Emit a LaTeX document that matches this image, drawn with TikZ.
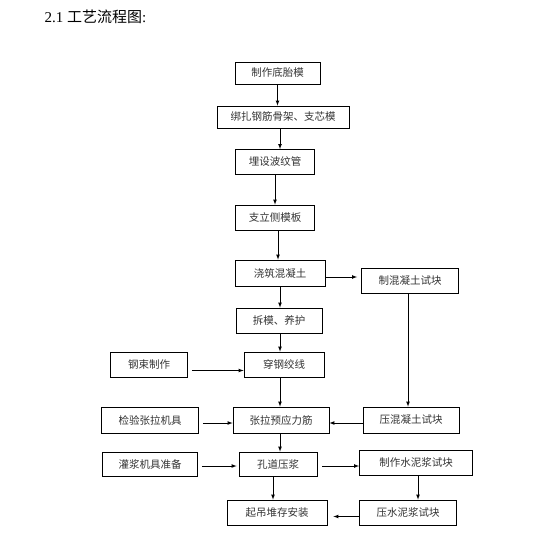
\documentclass[tikz,border=0pt]{standalone}
\usepackage{fontspec}
\setmainfont{Liberation Serif}
\newfontfamily\cjk{Noto Sans CJK SC}
\tikzset{
    flowbox/.style = {draw, line width=0.8pt, inner sep=0pt, minimum height=25pt, font=\cjk\fontsize{10.5}{11}\selectfont, text=black!80},
    arr/.style = {->, >=latex, line width=0.7pt}
}
\begin{document}
\begin{tikzpicture}[x=1pt, y=-1pt]
        \useasboundingbox (0, 0) rectangle (538, 548);
        \node [anchor=west, font=\fontsize{15}{17}\selectfont] (title) at (41, 17) {2.1 {\cjk 工艺流程图}:};
        % main column
        \node [flowbox, minimum width=85pt, minimum height=22pt] (dimo) at (277.5, 73) {制作底胎模};
        \node [flowbox, minimum width=132pt, minimum height=22pt] (gujia) at (283, 117) {绑扎钢筋骨架、支芯模};
        \node [flowbox, minimum width=79pt] (bowen) at (275, 162) {埋设波纹管};
        \node [flowbox, minimum width=79pt] (cemo) at (275, 217.5) {支立侧模板};
        \node [flowbox, minimum width=90pt, minimum height=26pt] (jiaozhu) at (280, 273) {浇筑混凝土};
        \node [flowbox, minimum width=86pt] (chaimo) at (279, 320.5) {拆模、养护};
        \node [flowbox, minimum width=80pt] (chuanxian) at (284, 364.5) {穿钢绞线};
        \node [flowbox, minimum width=96pt, minimum height=26pt] (zhangla) at (281, 420) {张拉预应力筋};
        \node [flowbox, minimum width=78pt, minimum height=24pt] (kongdao) at (278, 464) {孔道压浆};
        \node [flowbox, minimum width=100pt] (diaozhuang) at (277, 512.5) {起吊堆存安装};
        % left column
        \node [flowbox, minimum width=77pt] (gangshu) at (149, 364.5) {钢束制作};
        \node [flowbox, minimum width=97pt, minimum height=26pt] (jianyan) at (150, 420) {检验张拉机具};
        \node [flowbox, minimum width=95pt, minimum height=24pt] (guanjiang) at (150, 464) {灌浆机具准备};
        % right column
        \node [flowbox, minimum width=97pt] (zhikuai) at (410, 280.5) {制混凝土试块};
        \node [flowbox, minimum width=96pt, minimum height=26pt] (yakuai) at (411, 420) {压混凝土试块};
        \node [flowbox, minimum width=113pt] (zhijiang) at (416, 462.5) {制作水泥浆试块};
        \node [flowbox, minimum width=97pt] (yajiang) at (408, 512.5) {压水泥浆试块};
        % arrows
        \draw [arr] (dimo.south) -- (dimo.south |- gujia.north);
        \draw [arr] ([xshift=-3pt]gujia.south) -- ([xshift=-3pt]gujia.south |- bowen.north);
        \draw [arr] (bowen.south) -- (bowen.south |- cemo.north);
        \draw [arr] ([xshift=3pt]cemo.south) -- ([xshift=3pt]cemo.south |- jiaozhu.north);
        \draw [arr] (jiaozhu.south) -- (jiaozhu.south |- chaimo.north);
        \draw [arr, shorten >=4pt] ([yshift=-4pt]jiaozhu.east) -- ([yshift=-4pt]jiaozhu.east -| zhikuai.west);
        \draw [arr] ([xshift=1pt]chaimo.south) -- ([xshift=1pt]chaimo.south |- chuanxian.north);
        \draw [arr, shorten <=4pt] ([yshift=-6pt]gangshu.east) -- ([yshift=-6pt]gangshu.east -| chuanxian.west);
        \draw [arr] ([xshift=-4pt]chuanxian.south) -- ([xshift=-4pt]chuanxian.south |- zhangla.north);
        \draw [arr, shorten <=4pt] ([yshift=-3pt]jianyan.east) -- ([yshift=-3pt]jianyan.east -| zhangla.west);
        \draw [arr] ([yshift=-3pt]yakuai.west) -- ([yshift=-3pt]yakuai.west -| zhangla.east);
        \draw [arr] ([xshift=-2pt]zhikuai.south) -- ([xshift=-2pt]zhikuai.south |- yakuai.north);
        \draw [arr] ([xshift=-1pt]zhangla.south) -- ([xshift=-1pt]zhangla.south |- kongdao.north);
        \draw [arr, shorten <=4pt, shorten >=2pt] ([yshift=-2pt]guanjiang.east) -- ([yshift=-2pt]guanjiang.east -| kongdao.west);
        \draw [arr, shorten <=5pt] ([yshift=-2pt]kongdao.east) -- ([yshift=-2pt]kongdao.east -| zhijiang.west);
        \draw [arr] ([xshift=-5pt]kongdao.south) -- ([xshift=-5pt]kongdao.south |- diaozhuang.north);
        \draw [arr] ([xshift=2pt]zhijiang.south) -- ([xshift=2pt]zhijiang.south |- yajiang.north);
        \draw [arr, shorten >=6pt] ([yshift=-4pt]yajiang.west) -- ([yshift=-4pt]yajiang.west -| diaozhuang.east);
\end{tikzpicture}
\end{document}
